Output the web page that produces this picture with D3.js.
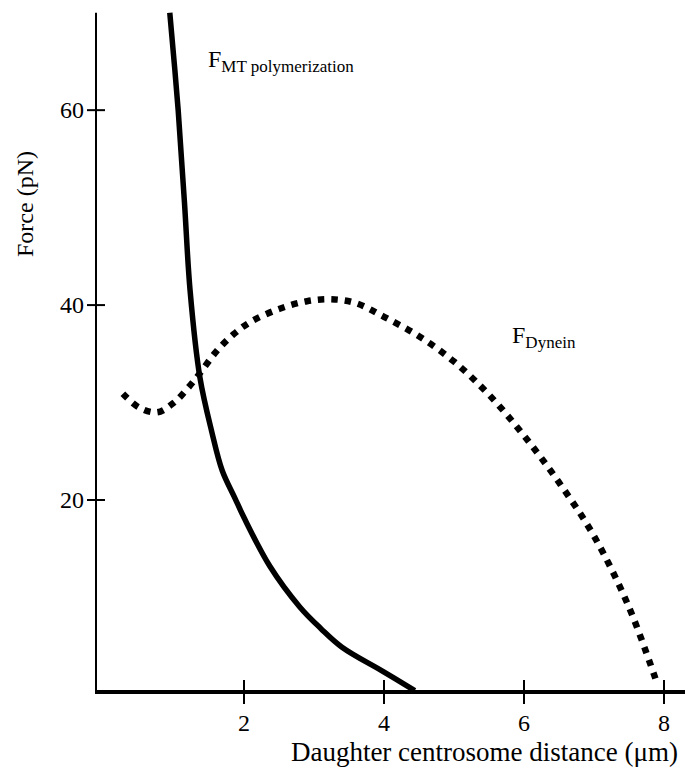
<!DOCTYPE html>
<html><head><meta charset="utf-8">
<script src="https://cdn.jsdelivr.net/npm/d3@7"></script>
<style>body{margin:0;background:#fff}svg{display:block}</style>
</head><body>
<script>
const xTicks = [2, 4, 6, 8];
const yTicks = [20, 40, 60];
const mtX = [0.94, 1.06, 1.15, 1.23, 1.37, 1.54, 1.69, 1.87, 2.0, 2.37, 2.8, 3.1, 3.4, 3.99, 4.44];
const mtY = [70, 60, 50.5, 41.5, 32.6, 27.0, 23, 20.2, 18.2, 13.2, 9.0, 6.8, 4.9, 2.4, 0.45];
const dyX = [0.27, 0.5, 0.76, 1.0, 1.2, 1.37, 1.6, 1.85, 2.1, 2.5, 2.9, 3.25, 3.6, 4.0, 4.5, 5.0, 5.5, 6.0, 6.5, 7.0, 7.5, 7.9];
const dyY = [30.9, 29.5, 29.0, 30, 31.5, 33.0, 35.2, 37, 38.3, 39.6, 40.4, 40.6, 40.2, 38.8, 36.8, 34.2, 30.8, 26.6, 21.8, 16.3, 9.0, 1.2];

const W = 685, H = 771;
const FONT = "'Liberation Serif', 'Times New Roman', Times, 'DejaVu Serif', serif";
const svg = d3.select("body").append("svg").attr("width", W).attr("height", H)
  .attr("font-family", FONT);
const x = d3.scaleLinear().domain([-0.114, 8.4]).range([96, 692]);
const y = d3.scaleLinear().domain([0.3, 70]).range([692, 12.7]);

// y axis
svg.append("line").attr("x1", x(-0.114)).attr("x2", x(-0.114)).attr("y1", y(70)).attr("y2", y(0.3))
  .attr("stroke", "#000").attr("stroke-width", 2);
svg.selectAll(".yt").data(yTicks).join("line").attr("x1", 87).attr("x2", 105)
  .attr("y1", d => y(d)).attr("y2", d => y(d)).attr("stroke", "#000").attr("stroke-width", 2);
svg.selectAll(".yl").data(yTicks).join("text").attr("x", 84).attr("y", d => y(d) + 8)
  .attr("text-anchor", "end").attr("font-family", FONT).attr("font-size", 24).text(d => d);

// x axis
svg.append("line").attr("x1", x(-0.114) - 1).attr("x2", x(8.4)).attr("y1", y(0.3)).attr("y2", y(0.3))
  .attr("stroke", "#000").attr("stroke-width", 4);
svg.selectAll(".xt").data(xTicks).join("line").attr("x1", d => x(d)).attr("x2", d => x(d))
  .attr("y1", 680).attr("y2", 704).attr("stroke", "#000").attr("stroke-width", 2);
svg.selectAll(".xl").data(xTicks).join("text").attr("x", d => x(d)).attr("y", 731)
  .attr("text-anchor", "middle").attr("font-family", FONT).attr("font-size", 24).text(d => d);

svg.append("text").attr("x", 678).attr("y", 761).attr("text-anchor", "end")
  .attr("font-family", FONT).attr("font-size", 27)
  .text("Daughter centrosome distance (μm)");
svg.append("text").attr("transform", "translate(33,204) rotate(-90)").attr("text-anchor", "middle")
  .attr("font-family", FONT).attr("font-size", 24).text("Force (pN)");

const line = d3.line().x(d => x(d[0])).y(d => y(d[1])).curve(d3.curveCatmullRom.alpha(0.5));
const mt = mtX.map((v, i) => [v, mtY[i]]);
const dy = dyX.map((v, i) => [v, dyY[i]]);
svg.append("path").attr("d", line(mt)).attr("fill", "none").attr("stroke", "#000").attr("stroke-width", 5.5);
svg.append("path").attr("d", line(dy)).attr("fill", "none").attr("stroke", "#000").attr("stroke-width", 6.5)
  .attr("stroke-dasharray", "6.5,7");

// labels
const l1 = svg.append("text").attr("x", 208).attr("y", 67).attr("font-family", FONT).attr("font-size", 24);
l1.append("tspan").text("F");
l1.append("tspan").attr("font-size", 17).attr("dy", 5).text("MT polymerization");
const l2 = svg.append("text").attr("x", 512).attr("y", 343).attr("font-family", FONT).attr("font-size", 24);
l2.append("tspan").text("F");
l2.append("tspan").attr("font-size", 17).attr("dy", 5).text("Dynein");
</script>
</body></html>
